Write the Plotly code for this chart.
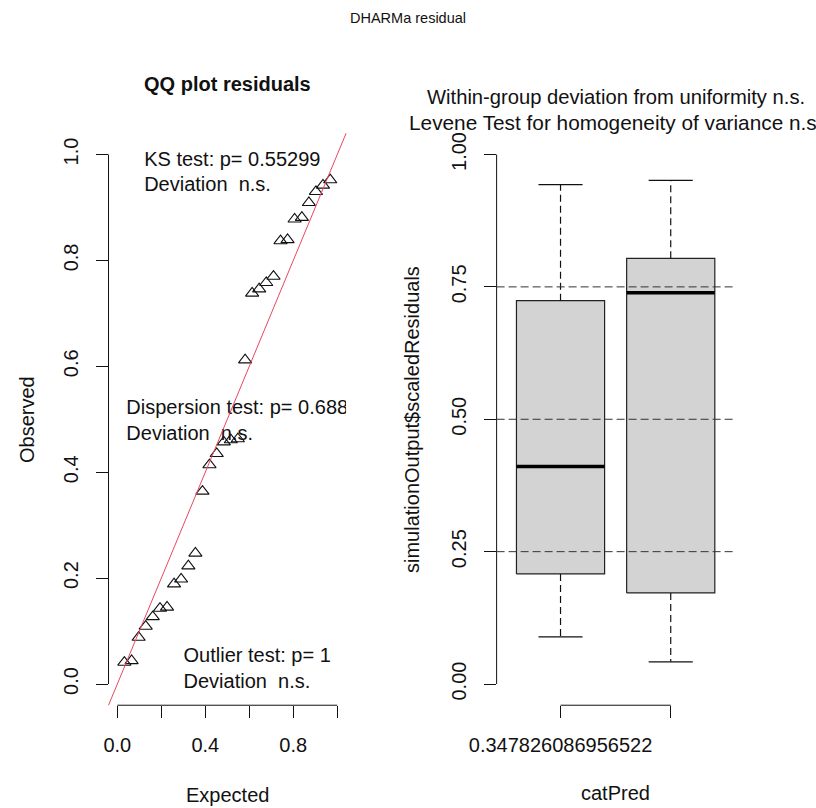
import plotly.graph_objects as go

# ---------------- data ----------------
# QQ plot: expected (uniform quantiles) and observed scaled residuals (sorted)
expected = [0.032, 0.065, 0.097, 0.129, 0.161, 0.194, 0.226, 0.258, 0.290, 0.323,
            0.355, 0.387, 0.419, 0.452, 0.484, 0.516, 0.548, 0.581, 0.613, 0.645,
            0.677, 0.710, 0.742, 0.774, 0.806, 0.839, 0.871, 0.903, 0.935, 0.968]
observed = [0.041, 0.044, 0.088, 0.109, 0.127, 0.143, 0.145, 0.189, 0.198, 0.223,
            0.247, 0.364, 0.414, 0.435, 0.457, 0.461, 0.463, 0.612, 0.738, 0.746,
            0.758, 0.770, 0.837, 0.839, 0.878, 0.881, 0.909, 0.930, 0.942, 0.952]

qq_ticks = [0.0, 0.2, 0.4, 0.6, 0.8, 1.0]
qq_xticklabels = ["0.0", "", "0.4", "", "0.8", ""]
qq_yticklabels = ["0.0", "0.2", "0.4", "0.6", "0.8", "1.0"]

ks_text = ["KS test: p= 0.55299", "Deviation  n.s."]
disp_text = ["Dispersion test: p= 0.688", "Deviation  n.s."]
outl_text = ["Outlier test: p= 1", "Deviation  n.s."]

# Box plot per group of catPred
groups = [1, 2]
group_labels = ["0.347826086956522", ""]
box_lower = [0.089, 0.042]
box_q1 = [0.208, 0.172]
box_median = [0.411, 0.739]
box_q3 = [0.724, 0.804]
box_upper = [0.943, 0.951]

box_ticks = [0.0, 0.25, 0.5, 0.75, 1.0]
box_ticklabels = ["0.00", "0.25", "0.50", "0.75", "1.00"]
ref_lines = [0.25, 0.5, 0.75]

# ---------------- style ----------------
FONT = "Liberation Sans, Arial, sans-serif"
FS = 20
INK = "#111111"
W, H = 816, 808

fig = go.Figure()

# QQ points
fig.add_trace(go.Scatter(
    x=expected, y=observed, mode="markers", xaxis="x", yaxis="y",
    marker=dict(symbol="triangle-up-open", size=11.5, color=INK, line=dict(width=1.1, color=INK)),
    hoverinfo="skip", showlegend=False))

# QQ text blocks (clipped to plot region like R)
def text_block(lines, x, y0, dy, xa, ya):
    fig.add_trace(go.Scatter(
        x=[x] * len(lines), y=[y0 - i * dy for i in range(len(lines))],
        text=lines, mode="text", textposition="middle right",
        textfont=dict(family=FONT, size=FS, color=INK),
        xaxis=xa, yaxis=ya, cliponaxis=True, hoverinfo="skip", showlegend=False))

text_block(ks_text, 0.122, 0.988, 0.047, "x", "y")
text_block(disp_text, 0.041, 0.519, 0.048, "x", "y")
text_block(outl_text, 0.301, 0.051, 0.049, "x", "y")

# Box plot drawn R-style
HW = 0.4   # half box width
CW = 0.2   # half cap width
for g, lo, q1, md, q3, up in zip(groups, box_lower, box_q1, box_median, box_q3, box_upper):
    fig.add_trace(go.Scatter(
        x=[g - HW, g + HW, g + HW, g - HW, g - HW], y=[q1, q1, q3, q3, q1],
        mode="lines", fill="toself", fillcolor="#d3d3d3",
        line=dict(color="#222222", width=1.2), xaxis="x2", yaxis="y2",
        hoverinfo="skip", showlegend=False))
    fig.add_trace(go.Scatter(
        x=[g, g, None, g, g], y=[q3, up, None, q1, lo], mode="lines",
        line=dict(color=INK, width=1.2, dash="7px,4px"), xaxis="x2", yaxis="y2",
        hoverinfo="skip", showlegend=False))
    fig.add_trace(go.Scatter(
        x=[g - CW, g + CW, None, g - CW, g + CW], y=[up, up, None, lo, lo], mode="lines",
        line=dict(color=INK, width=1.2), xaxis="x2", yaxis="y2",
        hoverinfo="skip", showlegend=False))
    fig.add_trace(go.Scatter(
        x=[g - HW, g + HW], y=[md, md], mode="lines",
        line=dict(color="black", width=3.5), xaxis="x2", yaxis="y2",
        hoverinfo="skip", showlegend=False))

# ---------------- axes ----------------
y_dom = [0.1272, 0.8350]
tickfont = dict(family=FONT, size=FS, color=INK)
common = dict(showgrid=False, zeroline=False, showline=False, ticks="outside",
              ticklen=12, tickwidth=1, tickcolor=INK, tickfont=tickfont,
              automargin=False)

fig.update_layout(
    xaxis=dict(domain=[0.1330, 0.4241], range=[-0.04, 1.04], anchor="y",
               tickvals=qq_ticks, ticktext=qq_xticklabels, ticklabelstandoff=10, **common),
    yaxis=dict(domain=y_dom, range=[-0.04, 1.04], anchor="x",
               tickvals=qq_ticks, ticktext=qq_yticklabels, tickangle=-90,
               ticklabelstandoff=10, **common),
    xaxis2=dict(domain=[0.6086, 0.9003], range=[0.42, 2.58], anchor="y2",
                tickvals=groups, ticktext=group_labels, ticklabelstandoff=10, **common),
    yaxis2=dict(domain=y_dom, range=[-0.04, 1.04], anchor="x2",
                tickvals=box_ticks, ticktext=box_ticklabels, tickangle=-90,
                ticklabelstandoff=10, **common),
)

shapes = []
# R-style axis lines spanning only first..last tick
shapes.append(dict(type="line", xref="x", yref="y domain", x0=qq_ticks[0], x1=qq_ticks[-1],
                   y0=0, y1=0, line=dict(color=INK, width=1)))
shapes.append(dict(type="line", xref="x domain", yref="y", x0=0, x1=0,
                   y0=qq_ticks[0], y1=qq_ticks[-1], line=dict(color=INK, width=1)))
shapes.append(dict(type="line", xref="x2", yref="y2 domain", x0=groups[0], x1=groups[-1],
                   y0=0, y1=0, line=dict(color=INK, width=1)))
shapes.append(dict(type="line", xref="x2 domain", yref="y2", x0=0, x1=0,
                   y0=box_ticks[0], y1=box_ticks[-1], line=dict(color=INK, width=1)))
# 1:1 reference line (both QQ ranges identical -> domain diagonal)
shapes.append(dict(type="line", xref="x domain", yref="y domain", x0=0, y0=0, x1=1, y1=1,
                   line=dict(color="#e8485e", width=1)))
# dashed reference lines in box plot
for h in ref_lines:
    shapes.append(dict(type="line", xref="x2 domain", yref="y2", x0=0, x1=1, y0=h, y1=h,
                       line=dict(color="#333333", width=1, dash="8px,4px"), layer="above"))

ann = [
    dict(text="DHARMa residual", x=408 / W, y=1 - 18 / H, font=dict(size=14.5)),
    dict(text="<b>QQ plot residuals</b>", x=227 / W, y=1 - 84 / H),
    dict(text="Within-group deviation from uniformity n.s.", x=615.5 / W, y=1 - 97 / H,
         font=dict(size=20.2)),
    dict(text="Levene Test for homogeneity of variance n.s.", x=615.5 / W, y=1 - 122 / H,
         font=dict(size=20.8)),
    dict(text="Expected", x=227 / W, y=1 - 795 / H),
    dict(text="catPred", x=615.5 / W, y=1 - 793 / H),
    dict(text="Observed", x=27 / W, y=1 - 420 / H, textangle=-90),
    dict(text="simulationOutput$scaledResiduals", x=412 / W, y=1 - 420 / H, textangle=-90),
]
annotations = []
for a in ann:
    base = dict(xref="paper", yref="paper", showarrow=False, xanchor="center", yanchor="middle",
                font=dict(family=FONT, size=FS, color=INK))
    f = a.pop("font", None)
    if f:
        base["font"] = dict(family=FONT, size=f["size"], color=INK)
    base.update(a)
    annotations.append(base)

fig.update_layout(
    width=W, height=H, autosize=False,
    margin=dict(l=0, r=0, t=0, b=0, pad=0),
    paper_bgcolor="white", plot_bgcolor="white",
    font=dict(family=FONT, size=FS, color=INK),
    shapes=shapes, annotations=annotations, showlegend=False,
)

fig.write_html("out.html")
